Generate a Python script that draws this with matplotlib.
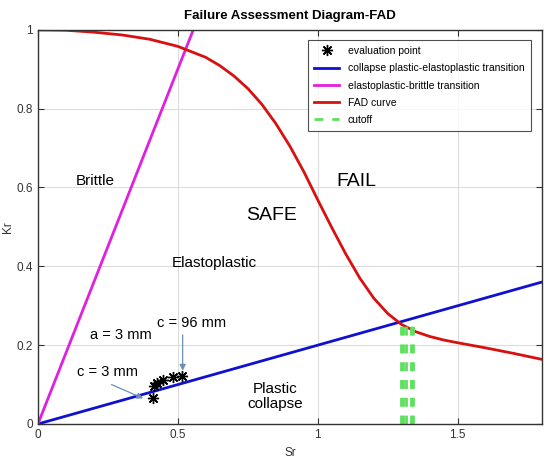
import matplotlib
matplotlib.use('Agg')
import matplotlib.pyplot as plt

plt.rcParams['font.family'] = ['Liberation Sans', 'DejaVu Sans']

# FAD curve
fadSr = [0, 0.1, 0.2, 0.3, 0.4, 0.5, 0.6, 0.65, 0.7, 0.75, 0.8, 0.85, 0.9, 0.95,
         1.0, 1.05, 1.1, 1.15, 1.2, 1.25, 1.3, 1.35, 1.4, 1.45, 1.5, 1.6, 1.7, 1.8]
fadKr = [1.0, 0.999, 0.994, 0.987, 0.976, 0.958, 0.930, 0.909, 0.883, 0.851, 0.811, 0.762, 0.705, 0.640,
         0.568, 0.498, 0.431, 0.370, 0.319, 0.280, 0.252, 0.234, 0.222, 0.213, 0.206, 0.193, 0.179, 0.164]

# transition lines
collapseSr = [0, 1.8]
collapseKr = [0, 0.36]
brittleSr = [0, 0.555]
brittleKr = [0, 1.0]

# cutoff lines
cutoffSr = [1.296, 1.304, 1.316, 1.332, 1.341]
cutoffTop = 0.255

# evaluation points
evalSr = [0.41, 0.415, 0.424, 0.445, 0.481, 0.513]
evalKr = [0.065, 0.096, 0.103, 0.112, 0.118, 0.122]

fig = plt.figure(figsize=(5.5, 4.61), dpi=100)
ax = fig.add_axes([0.069, 0.0803, 0.916, 0.855])

star = (8, 2, 0)
ax.plot(evalSr, evalKr, linestyle='none', marker=star, markersize=8, color='black',
        markeredgewidth=1.0, label='evaluation point', zorder=5)
ax.plot(collapseSr, collapseKr, color='#1010d0', lw=2, label='collapse plastic-elastoplastic transition')
ax.plot(brittleSr, brittleKr, color='#e020e0', lw=2, label='elastoplastic-brittle transition')
ax.plot(fadSr, fadKr, color='#d81010', lw=2, label='FAD curve')
for i in range(len(cutoffSr)):
    lbl = 'cutoff' if i == 0 else None
    ax.plot([cutoffSr[i], cutoffSr[i]], [0, cutoffTop], color='#5ee05e', lw=2,
            linestyle=(0, (3.2, 3.2)), label=lbl)

ax.set_xlim(0, 1.8)
ax.set_ylim(0, 1)
ax.set_xticks([0, 0.5, 1, 1.5])
ax.set_xticklabels(['0', '0.5', '1', '1.5'])
ax.set_yticks([0, 0.2, 0.4, 0.6, 0.8, 1])
ax.set_yticklabels(['0', '0.2', '0.4', '0.6', '0.8', '1'])
ax.grid(True, color='#dcdcdc', lw=0.8)
ax.set_axisbelow(True)
ax.tick_params(direction='in', top=True, right=True, labelsize=8.5, colors='#333333', length=4)
for s in ax.spines.values():
    s.set_color('#333333')
    s.set_linewidth(1.0)

ax.set_xlabel('Sr', fontsize=8.5, color='#333333')
ax.set_ylabel('Kr', fontsize=8.5, color='#333333')
ax.xaxis.set_label_coords(0.5, -0.058)
ax.yaxis.set_label_coords(-0.048, 0.5)
ax.set_title('Failure Assessment Diagram-FAD', fontsize=9.5, fontweight='bold', pad=8)

ax.text(0.204, 0.617, 'Brittle', fontsize=11, ha='center', va='center')
ax.text(0.836, 0.53, 'SAFE', fontsize=14, ha='center', va='center')
ax.text(1.136, 0.614, 'FAIL', fontsize=14, ha='center', va='center')
ax.text(0.629, 0.409, 'Elastoplastic', fontsize=11, ha='center', va='center')
ax.text(0.846, 0.07, 'Plastic\ncollapse', fontsize=11, ha='center', va='center', linespacing=1.1)
ax.text(0.296, 0.226, 'a = 3 mm', fontsize=10.5, ha='center', va='center')
ax.text(0.549, 0.255, 'c = 96 mm', fontsize=10.5, ha='center', va='center')
ax.text(0.25, 0.133, 'c = 3 mm', fontsize=10.5, ha='center', va='center')

arrowProps = dict(arrowstyle='-|>', color='#6a90b8', lw=0.9, mutation_scale=9,
                  shrinkA=0, shrinkB=0)
ax.annotate('', xy=(0.517, 0.135), xytext=(0.517, 0.226), arrowprops=arrowProps)
ax.annotate('', xy=(0.376, 0.065), xytext=(0.263, 0.10), arrowprops=arrowProps)

leg = ax.legend(loc='upper right', bbox_to_anchor=(0.978, 0.975), borderaxespad=0,
                fontsize=7.5, frameon=True, fancybox=False, edgecolor='#222222',
                handlelength=2.4, borderpad=0.6, labelspacing=0.7)
leg.get_frame().set_linewidth(0.8)

fig.savefig('out.png', dpi=100)
